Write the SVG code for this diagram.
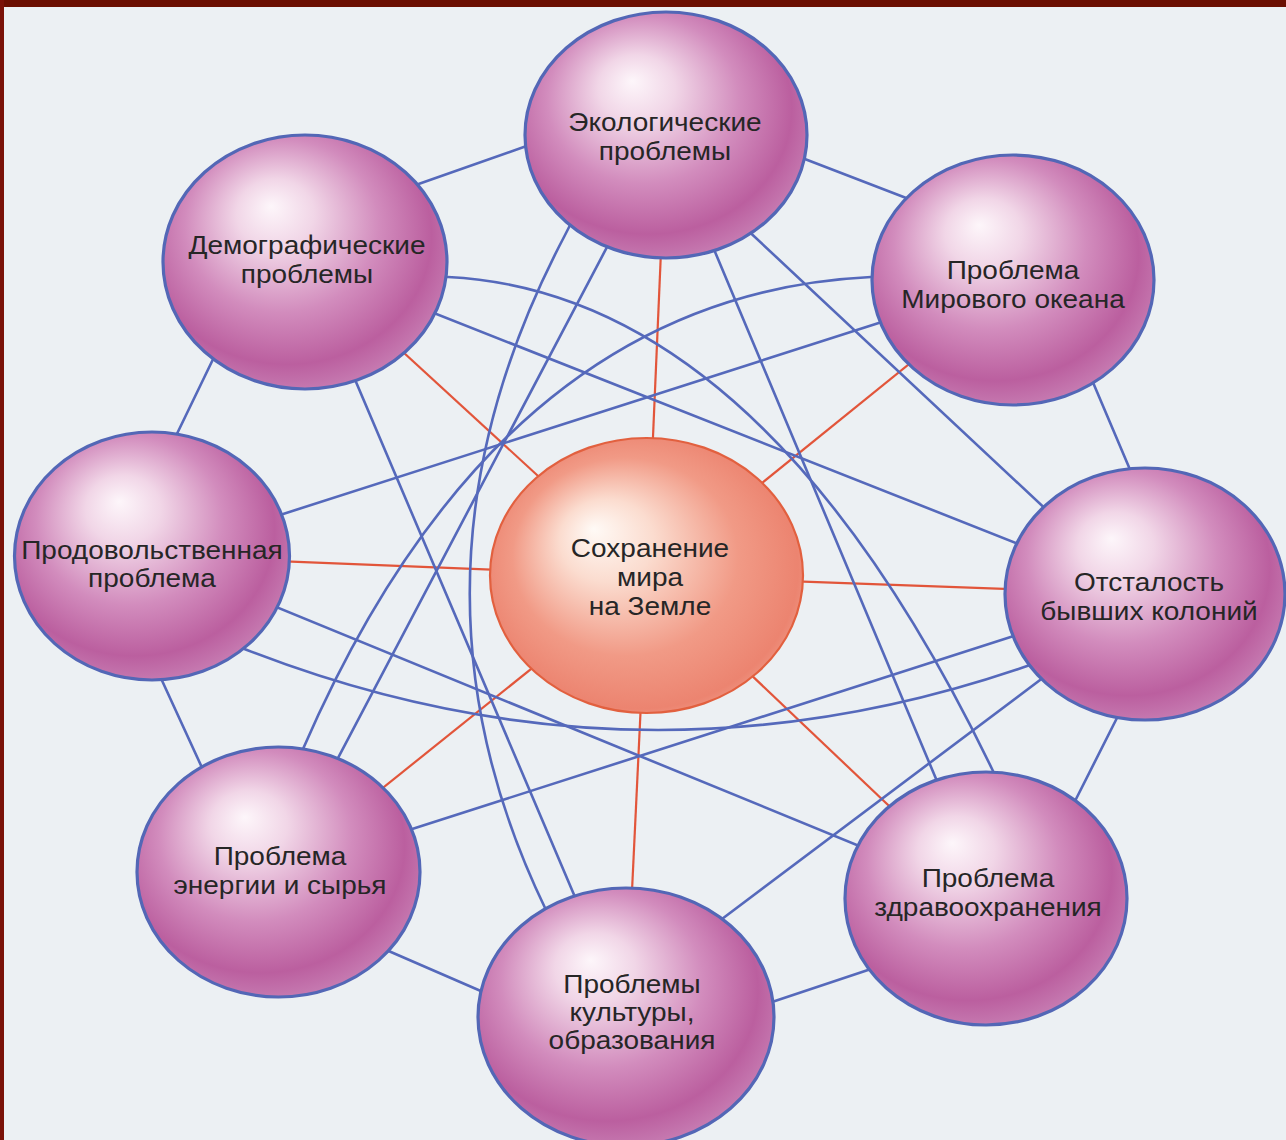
<svg xmlns="http://www.w3.org/2000/svg" width="1286" height="1140" viewBox="0 0 1286 1140">
<defs>
<radialGradient id="gp" cx="0.45" cy="0.42" r="0.62" fx="0.38" fy="0.28">
 <stop offset="0" stop-color="#fdf6fa"/>
 <stop offset="0.22" stop-color="#f1d6e7"/>
 <stop offset="0.55" stop-color="#d28cbd"/>
 <stop offset="0.82" stop-color="#bb5f9f"/>
 <stop offset="1" stop-color="#c982b6"/>
</radialGradient>
<radialGradient id="gc" cx="0.5" cy="0.5" r="0.6" fx="0.33" fy="0.33">
 <stop offset="0" stop-color="#fffaf6"/>
 <stop offset="0.25" stop-color="#fbdccf"/>
 <stop offset="0.6" stop-color="#f19a86"/>
 <stop offset="0.85" stop-color="#ec8470"/>
 <stop offset="1" stop-color="#f3b0a0"/>
</radialGradient>
</defs>
<style>
 .bl{fill:none;stroke:#5569bb;stroke-width:2.6;stroke-linecap:round}
 .rd{fill:none;stroke:#e2553a;stroke-width:2.2}
 .nd{fill:url(#gp);stroke:#5367b6;stroke-width:3.2}
 .ct{fill:url(#gc);stroke:#e2603f;stroke-width:2.2}
 text{font-family:"Liberation Sans",Arial,sans-serif;font-size:25px;fill:#262626;text-anchor:middle}
</style>
<rect x="0" y="0" width="1286" height="1140" fill="#ecf0f3"/>
<rect x="0" y="0" width="1286" height="7" fill="#6b0f02"/>
<rect x="0" y="0" width="4" height="1140" fill="#7a1208"/>

<g id="connectors">
 <g id="red-links">
  <line class="rd" x1="647" y1="576" x2="666" y2="135"/>
  <line class="rd" x1="647" y1="576" x2="305" y2="262"/>
  <line class="rd" x1="647" y1="576" x2="1013" y2="280"/>
  <line class="rd" x1="647" y1="576" x2="152" y2="556"/>
  <line class="rd" x1="647" y1="576" x2="1145" y2="594"/>
  <line class="rd" x1="647" y1="576" x2="278" y2="872"/>
  <line class="rd" x1="647" y1="576" x2="986" y2="898"/>
  <line class="rd" x1="647" y1="576" x2="626" y2="1017"/>
 </g>
 <g id="blue-links">
  <line class="bl" x1="410" y1="187" x2="535" y2="143"/>
  <line class="bl" x1="797" y1="156" x2="914" y2="201"/>
  <line class="bl" x1="1089" y1="373" x2="1134" y2="479"/>
  <line class="bl" x1="1122" y1="708" x2="1072" y2="807"/>
  <line class="bl" x1="877" y1="967" x2="763" y2="1005"/>
  <line class="bl" x1="490" y1="995" x2="384" y2="949"/>
  <line class="bl" x1="204" y1="772" x2="159" y2="674"/>
  <line class="bl" x1="173" y1="442" x2="217" y2="351"/>
  <line class="bl" x1="666" y1="135" x2="278" y2="872"/>
  <line class="bl" x1="666" y1="135" x2="986" y2="898"/>
  <line class="bl" x1="305" y1="262" x2="626" y2="1017"/>
  <line class="bl" x1="305" y1="262" x2="1145" y2="594"/>
  <line class="bl" x1="152" y1="556" x2="1013" y2="280"/>
  <line class="bl" x1="152" y1="556" x2="986" y2="898"/>
  <line class="bl" x1="278" y1="872" x2="1145" y2="594"/>
  <line class="bl" x1="742" y1="225" x2="1052" y2="515"/>
  <line class="bl" x1="714" y1="925" x2="1052" y2="671"/>
  <path class="bl" d="M590,186 L564,237 Q385,578 546,910 L562,943"/>
  <path class="bl" d="M420,276 L448,277 Q763,293 993,771 L1000,786"/>
  <path class="bl" d="M900,276 L871,277 Q500,295 303,749 L298,760"/>
  <path class="bl" d="M208,635 L247,650 Q637,802 1030,665 L1069,651"/>
 </g>
</g>

<g id="n-eco">
 <ellipse class="nd" cx="666" cy="135" rx="141" ry="123"/>
 <text transform="translate(665 131) scale(1.12 1)"><tspan x="0">Экологические</tspan><tspan x="0" dy="29">проблемы</tspan></text>
</g>
<g id="n-demo">
 <ellipse class="nd" cx="305" cy="262" rx="142" ry="127"/>
 <text transform="translate(307 254) scale(1.12 1)"><tspan x="0">Демографические</tspan><tspan x="0" dy="29">проблемы</tspan></text>
</g>
<g id="n-ocean">
 <ellipse class="nd" cx="1013" cy="280" rx="141" ry="125"/>
 <text transform="translate(1013 279) scale(1.12 1)"><tspan x="0">Проблема</tspan><tspan x="0" dy="29">Мирового океана</tspan></text>
</g>
<g id="n-food">
 <ellipse class="nd" cx="152" cy="556" rx="137.5" ry="124"/>
 <text transform="translate(152 559) scale(1.12 1)"><tspan x="0">Продовольственная</tspan><tspan x="0" dy="28">проблема</tspan></text>
</g>
<g id="n-colonies">
 <ellipse class="nd" cx="1145" cy="594" rx="140" ry="126"/>
 <text transform="translate(1149 591) scale(1.12 1)"><tspan x="0">Отсталость</tspan><tspan x="0" dy="29">бывших колоний</tspan></text>
</g>
<g id="n-energy">
 <ellipse class="nd" cx="278.5" cy="872" rx="141.5" ry="125"/>
 <text transform="translate(280 865) scale(1.12 1)"><tspan x="0">Проблема</tspan><tspan x="0" dy="29">энергии и сырья</tspan></text>
</g>
<g id="n-health">
 <ellipse class="nd" cx="986" cy="898.5" rx="141" ry="126.5"/>
 <text transform="translate(988 887) scale(1.12 1)"><tspan x="0">Проблема</tspan><tspan x="0" dy="29">здравоохранения</tspan></text>
</g>
<g id="n-culture">
 <ellipse class="nd" cx="626" cy="1017" rx="148" ry="129"/>
 <text transform="translate(632 993) scale(1.12 1)"><tspan x="0">Проблемы</tspan><tspan x="0" dy="28">культуры,</tspan><tspan x="0" dy="28">образования</tspan></text>
</g>
<g id="n-center">
 <ellipse class="ct" cx="646.5" cy="575.5" rx="156.5" ry="137.5"/>
 <text transform="translate(650 557) scale(1.12 1)"><tspan x="0">Сохранение</tspan><tspan x="0" dy="29">мира</tspan><tspan x="0" dy="29">на Земле</tspan></text>
</g>
</svg>
